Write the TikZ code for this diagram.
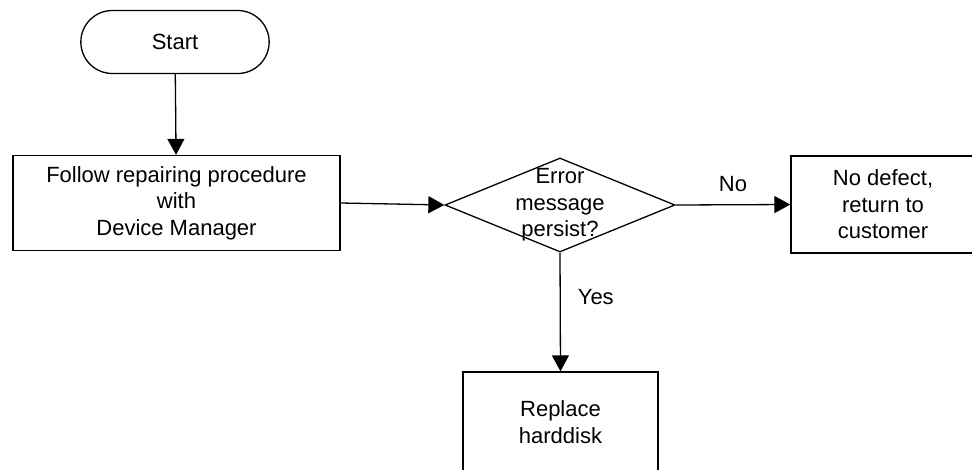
\documentclass[tikz,border=0pt]{standalone}
\usepackage{fontspec}
\setmainfont{Liberation Sans}
\usetikzlibrary{arrows.meta,shapes.misc,shapes.geometric}

\begin{document}
\begin{tikzpicture}[
    x=1pt,
    y=-1pt,
    line width=1.3pt,
    every node/.style={
      font=\fontsize{22}{26.5}\selectfont,
      align=center,
    },
    terminal/.style={
      draw,
      rounded rectangle,
      minimum width=195,
      minimum height=63,
    },
    process/.style={
      draw,
      rectangle,
      inner sep=0,
    },
    decision/.style={
      draw,
      diamond,
      inner sep=0,
      minimum width=230,
      minimum height=94,
    },
    flow/.style={
      -{Triangle[length=16pt,width=17pt]},
    },
    branch/.style={
      inner sep=0,
    },
  ]
    \useasboundingbox (0,0) rectangle (972,469);
    \clip (0,0) rectangle (972,469);

    \node[terminal] (start) at (175,42) {Start};
    \node[process,minimum width=327,minimum height=95] (repair) at (176.5,203)
      {Follow repairing procedure\\with\\Device Manager};
    \node[decision] (persist) at (560,205) {};
    \node[branch] (persisttext) at (persist.center) {Error\\message\\persist?};
    \node[process,minimum width=184,minimum height=97] (nodefect) at (883,204.5)
      {No defect,\\return to\\customer};
    \node[process,minimum width=195,minimum height=100] (replace) at (560.5,422)
      {Replace\\harddisk};

    \draw[flow] (start) -- (repair);
    \draw[flow] (repair.east) -- (persist.west);
    \draw[flow] (persist.east) -- node[branch,above=12] (no) {No} (nodefect.west);
    \draw[flow] (persist.south) -- node[branch,pos=.375,right=17] (yes) {Yes} (replace.north);
  \end{tikzpicture}
\end{document}
